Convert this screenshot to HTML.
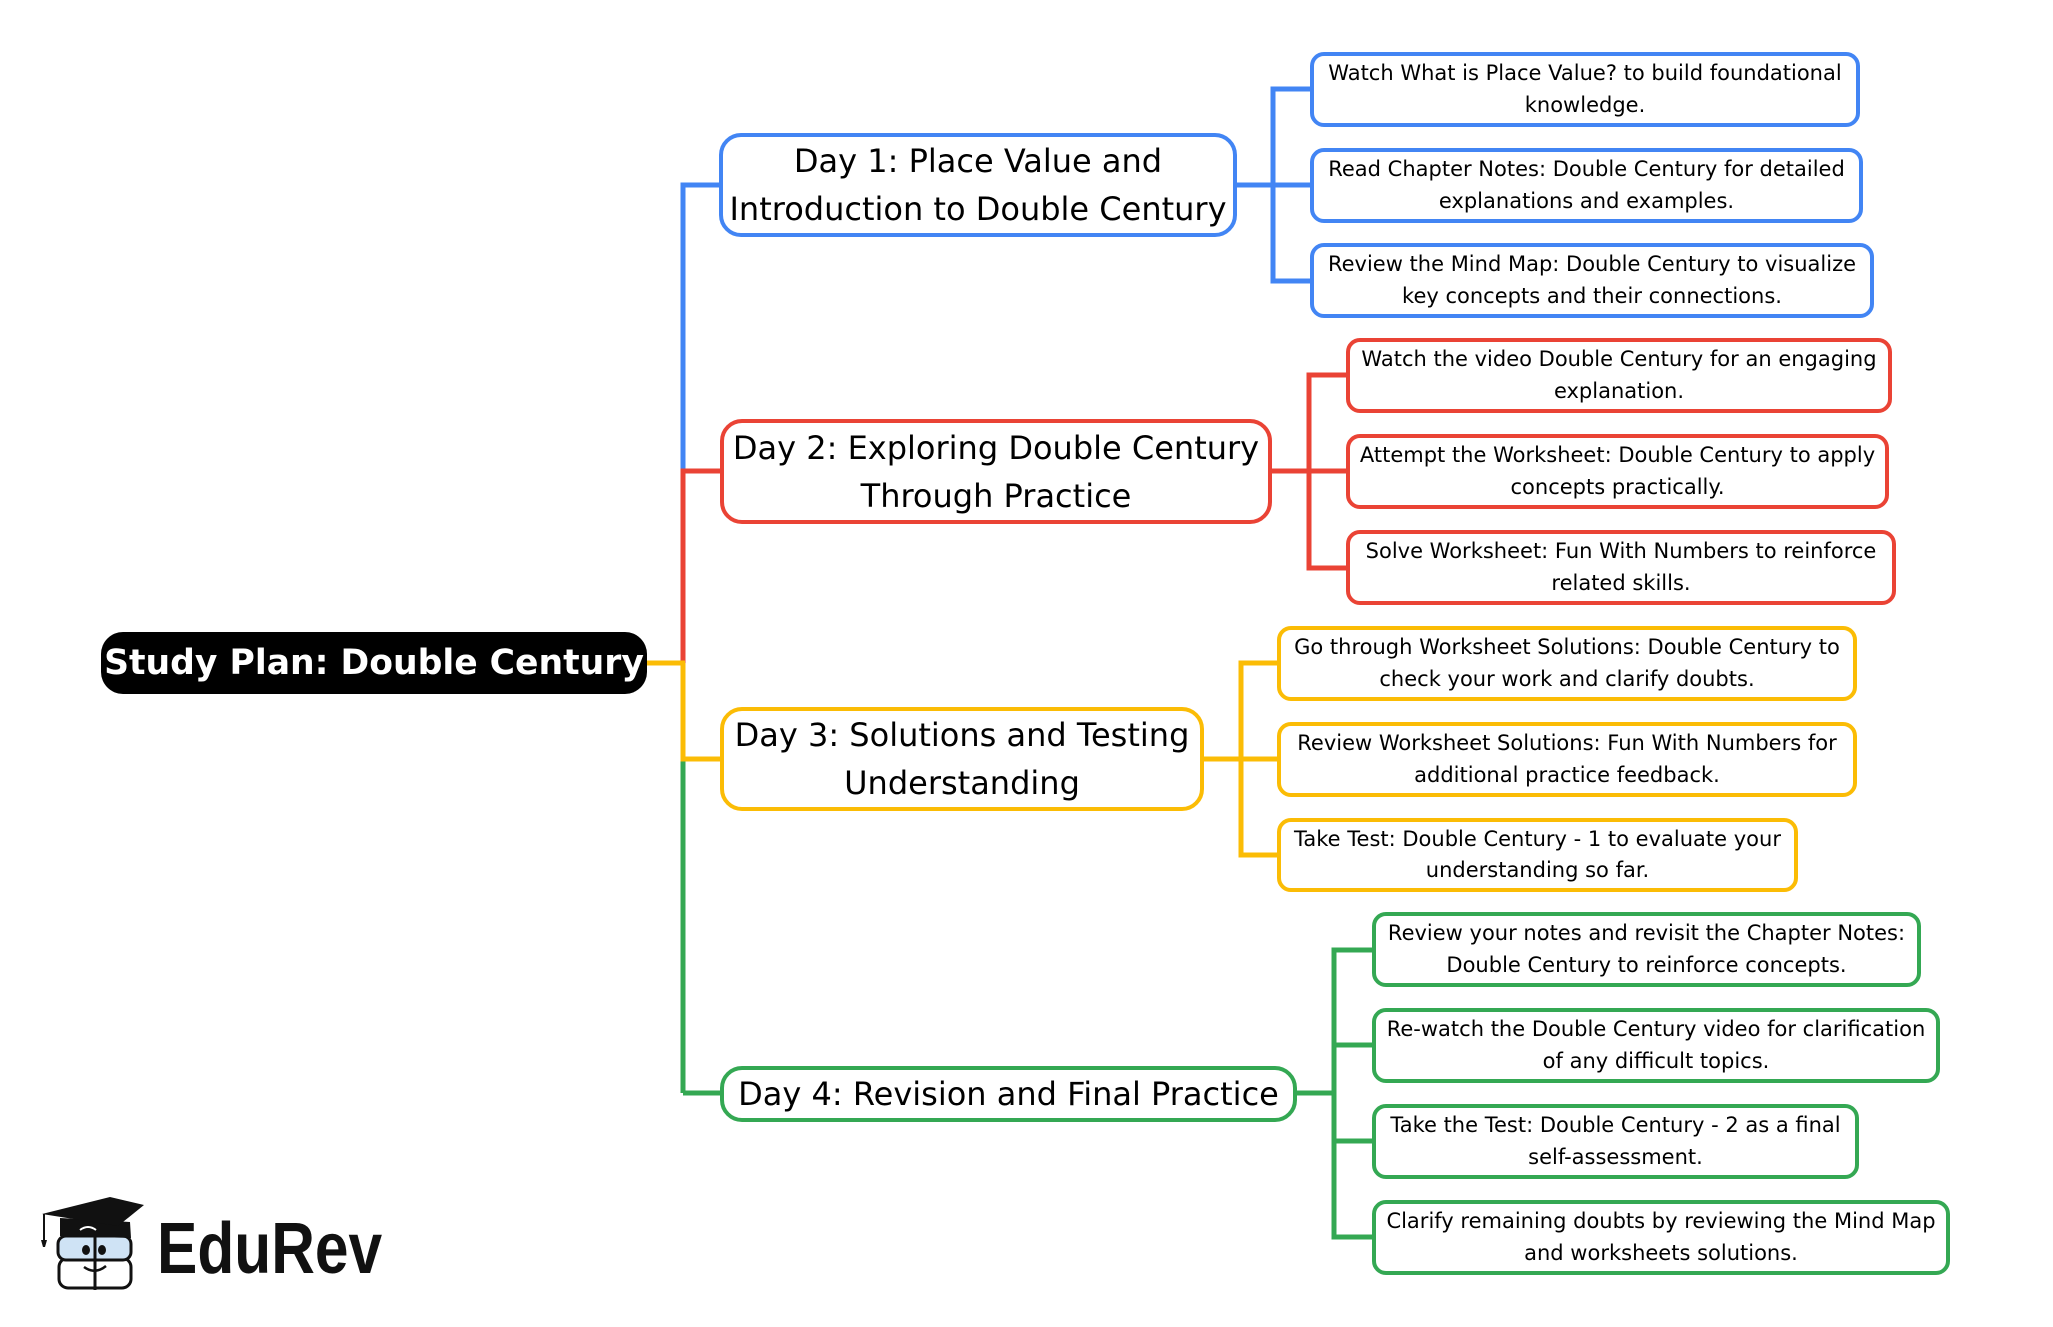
<!DOCTYPE html>
<html>
<head>
<meta charset="utf-8">
<style>
  html,body{margin:0;padding:0;background:#fff;}
  body{width:2053px;height:1327px;position:relative;overflow:hidden;font-family:"DejaVu Sans","Liberation Sans",sans-serif;}
  svg.lines{position:absolute;left:0;top:0;}
  .box{position:absolute;box-sizing:border-box;background:#fff;display:flex;flex-direction:column;align-items:center;justify-content:center;text-align:center;white-space:nowrap;color:#000;}
  .leaf{border-width:4px;border-style:solid;border-radius:14px;font-size:21px;line-height:31.5px;}
  .day{border-width:4px;border-style:solid;border-radius:22px;font-size:32px;line-height:48px;}
  .b{border-color:#4285f4;}
  .r{border-color:#ea4335;}
  .y{border-color:#fbbc05;}
  .g{border-color:#34a853;}
  .root{position:absolute;left:101px;top:632px;width:546px;height:62px;background:#000;border-radius:22px;color:#fff;font-weight:bold;font-size:34.6px;display:flex;align-items:center;justify-content:center;white-space:nowrap;}
  .logo{position:absolute;left:157px;top:1208px;font-family:"Liberation Sans",sans-serif;font-weight:bold;font-size:72px;line-height:82px;color:#111;transform:scaleX(0.84);transform-origin:0 0;white-space:nowrap;}
</style>
</head>
<body>
<svg class="lines" width="2053" height="1327" xmlns="http://www.w3.org/2000/svg">
  <g fill="none" stroke-width="5" stroke-linecap="butt">
    <polyline points="683,471 683,185 721,185" stroke="#4285f4"/>
    <polyline points="683,663 683,471 722,471" stroke="#ea4335"/>
    <polyline points="683,1093 683,759 722,759" stroke="#34a853"/>
    <polyline points="683,663 683,759 722,759" stroke="#fbbc05"/>
    <line x1="645" y1="663" x2="685" y2="663" stroke="#fbbc05"/>
    <line x1="722" y1="1093" x2="683" y2="1093" stroke="#34a853"/>
    <line x1="1235" y1="185" x2="1273" y2="185" stroke="#4285f4"/>
    <polyline points="1312,89 1273,89 1273,281 1312,281" stroke="#4285f4"/>
    <line x1="1273" y1="185" x2="1312" y2="185" stroke="#4285f4"/>
    <line x1="1270" y1="471" x2="1309" y2="471" stroke="#ea4335"/>
    <polyline points="1348,375 1309,375 1309,568 1348,568" stroke="#ea4335"/>
    <line x1="1309" y1="471" x2="1348" y2="471" stroke="#ea4335"/>
    <line x1="1202" y1="759" x2="1241" y2="759" stroke="#fbbc05"/>
    <polyline points="1279,663 1241,663 1241,855 1279,855" stroke="#fbbc05"/>
    <line x1="1241" y1="759" x2="1279" y2="759" stroke="#fbbc05"/>
    <line x1="1295" y1="1093" x2="1334" y2="1093" stroke="#34a853"/>
    <polyline points="1374,950 1334,950 1334,1237 1374,1237" stroke="#34a853"/>
    <line x1="1334" y1="1045" x2="1374" y2="1045" stroke="#34a853"/>
    <line x1="1334" y1="1141" x2="1374" y2="1141" stroke="#34a853"/>
  </g>
</svg>

<div class="root">Study Plan: Double Century</div>

<div class="box day b" style="left:719px;top:133px;width:518px;height:104px;">Day 1: Place Value and<br>Introduction to Double Century</div>
<div class="box day r" style="left:720px;top:419px;width:552px;height:105px;">Day 2: Exploring Double Century<br>Through Practice</div>
<div class="box day y" style="left:720px;top:707px;width:484px;height:104px;">Day 3: Solutions and Testing<br>Understanding</div>
<div class="box day g" style="left:720px;top:1066px;width:577px;height:56px;">Day 4: Revision and Final Practice</div>

<div class="box leaf b" style="left:1310px;top:52px;width:550px;height:75px;">Watch What is Place Value? to build foundational<br>knowledge.</div>
<div class="box leaf b" style="left:1310px;top:148px;width:553px;height:75px;">Read Chapter Notes: Double Century for detailed<br>explanations and examples.</div>
<div class="box leaf b" style="left:1310px;top:243px;width:564px;height:75px;">Review the Mind Map: Double Century to visualize<br>key concepts and their connections.</div>

<div class="box leaf r" style="left:1346px;top:338px;width:546px;height:75px;">Watch the video Double Century for an engaging<br>explanation.</div>
<div class="box leaf r" style="left:1346px;top:434px;width:543px;height:75px;">Attempt the Worksheet: Double Century to apply<br>concepts practically.</div>
<div class="box leaf r" style="left:1346px;top:530px;width:550px;height:75px;">Solve Worksheet: Fun With Numbers to reinforce<br>related skills.</div>

<div class="box leaf y" style="left:1277px;top:626px;width:580px;height:75px;">Go through Worksheet Solutions: Double Century to<br>check your work and clarify doubts.</div>
<div class="box leaf y" style="left:1277px;top:722px;width:580px;height:75px;">Review Worksheet Solutions: Fun With Numbers for<br>additional practice feedback.</div>
<div class="box leaf y" style="left:1277px;top:818px;width:521px;height:74px;">Take Test: Double Century - 1 to evaluate your<br>understanding so far.</div>

<div class="box leaf g" style="left:1372px;top:912px;width:549px;height:75px;">Review your notes and revisit the Chapter Notes:<br>Double Century to reinforce concepts.</div>
<div class="box leaf g" style="left:1372px;top:1008px;width:568px;height:75px;">Re-watch the Double Century video for clarification<br>of any difficult topics.</div>
<div class="box leaf g" style="left:1372px;top:1104px;width:487px;height:75px;">Take the Test: Double Century - 2 as a final<br>self-assessment.</div>
<div class="box leaf g" style="left:1372px;top:1200px;width:578px;height:75px;">Clarify remaining doubts by reviewing the Mind Map<br>and worksheets solutions.</div>

<svg style="position:absolute;left:0;top:0;" width="200" height="1327" xmlns="http://www.w3.org/2000/svg">
  <rect x="59" y="1258" width="72" height="30" rx="9" fill="#fff" stroke="#111" stroke-width="3"/>
  <rect x="58" y="1236" width="73" height="24" rx="8" fill="#cfe3f5" stroke="#111" stroke-width="3"/>
  <path d="M60,1218 L130,1222 L131,1238 L60,1236 Z" fill="#111"/>
  <path d="M42,1214 L110,1197 L144,1205 L118,1226 Z" fill="#111"/>
  <line x1="44" y1="1214" x2="44" y2="1240" stroke="#111" stroke-width="2"/>
  <path d="M41,1240 L47,1240 L45,1247 L43,1247 Z" fill="#111"/>
  <line x1="95" y1="1234" x2="95" y2="1290" stroke="#111" stroke-width="3"/>
  <ellipse cx="86" cy="1250" rx="4" ry="5" fill="#111"/>
  <ellipse cx="102" cy="1250" rx="4" ry="5" fill="#111"/>
  <path d="M84,1267 Q95,1275 106,1266" fill="none" stroke="#111" stroke-width="2.5"/>
  <path d="M80,1230 Q88,1224 96,1230" fill="none" stroke="#fff" stroke-width="2"/>
</svg>
<div class="logo">EduRev</div>
</body>
</html>
